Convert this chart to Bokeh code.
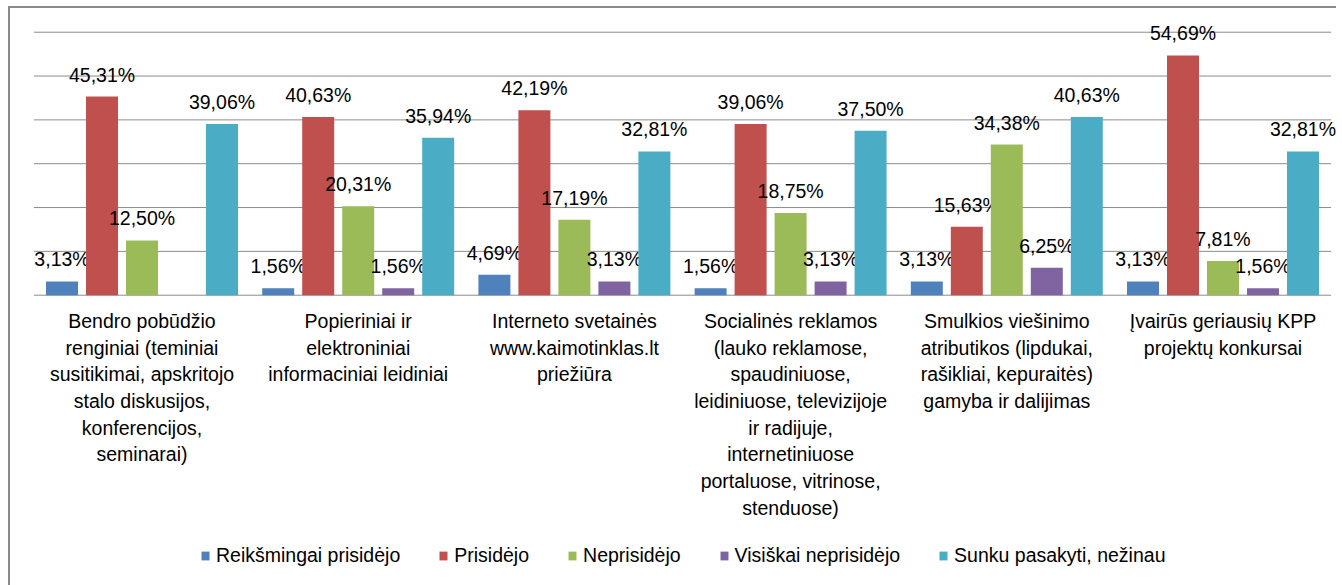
from bokeh.plotting import figure
from bokeh.models import (ColumnDataSource, FactorRange, Legend, LegendItem, Range1d)
from bokeh.transform import dodge
from bokeh.core.properties import value
from bokeh.embed import file_html
from bokeh.resources import INLINE

categories = [
    "Bendro pobūdžio\nrenginiai (teminiai\nsusitikimai, apskritojo\nstalo diskusijos,\nkonferencijos,\nseminarai)",
    "Popieriniai ir\nelektroniniai\ninformaciniai leidiniai",
    "Interneto svetainės\nwww.kaimotinklas.lt\npriežiūra",
    "Socialinės reklamos\n(lauko reklamose,\nspaudiniuose,\nleidiniuose, televizijoje\nir radijuje,\ninternetiniuose\nportaluose, vitrinose,\nstenduose)",
    "Smulkios viešinimo\natributikos (lipdukai,\nrašikliai, kepuraitės)\ngamyba ir dalijimas",
    "Įvairūs geriausių KPP\nprojektų konkursai",
]
series_names = ["Reikšmingai prisidėjo", "Prisidėjo", "Neprisidėjo",
                "Visiškai neprisidėjo", "Sunku pasakyti, nežinau"]
reiksmingai = [3.13, 1.56, 4.69, 1.56, 3.13, 3.13]
prisidejo = [45.31, 40.63, 42.19, 39.06, 15.63, 54.69]
neprisidejo = [12.50, 20.31, 17.19, 18.75, 34.38, 7.81]
visiskai = [0.0, 1.56, 3.13, 3.13, 6.25, 1.56]
sunku = [39.06, 35.94, 32.81, 37.50, 40.63, 32.81]
y_ticks = [0, 10, 20, 30, 40, 50, 60]

series_values = [reiksmingai, prisidejo, neprisidejo, visiskai, sunku]
colors = ["#4F81BD", "#C0504D", "#9BBB59", "#8064A2", "#4BACC6"]
offsets = [-0.37, -0.185, 0.0, 0.185, 0.37]
bar_w = 0.148
FONT = "Liberation Sans"

# frame covers the whole canvas; 0..60 occupies the chart area, the rest holds
# category labels and the legend
x_range = FactorRange(*categories, range_padding=0.025, range_padding_units="absolute")
p = figure(x_range=x_range, y_range=Range1d(-66.23, 65.41),
           frame_width=1308, frame_height=577,
           output_backend="svg", toolbar_location=None,
           min_border_left=18, min_border_right=0, min_border_top=0,
           min_border_bottom=0)
p.margin = (6, 0, 0, 8)
p.styles = {"border-left": "2px solid #8a8a8a", "border-top": "2px solid #8a8a8a"}
p.outline_line_color = None
p.background_fill_color = "white"
p.border_fill_color = "white"

# horizontal gridlines spanning exactly the category area
gsrc = ColumnDataSource(dict(x0=[categories[0]] * len(y_ticks),
                             x1=[categories[-1]] * len(y_ticks), y=y_ticks))
p.segment(x0=dodge("x0", -0.5, range=p.x_range), x1=dodge("x1", 0.5, range=p.x_range),
          y0="y", y1="y", source=gsrc, line_color="#8c8c8c", line_width=1)

items = []
for name, vals, col, off in zip(series_names, series_values, colors, offsets):
    src = ColumnDataSource(dict(cat=categories, v=vals))
    r = p.vbar(x=dodge("cat", off, range=p.x_range), top="v", width=bar_w,
               source=src, fill_color=col, line_color=None)
    items.append(LegendItem(label=name, renderers=[r]))
    lab_c = [c for c, v in zip(categories, vals) if v > 0]
    lab_v = [v for v in vals if v > 0]
    lab_t = [("%.2f" % v).replace(".", ",") + "%" for v in lab_v]
    lsrc = ColumnDataSource(dict(cat=lab_c, v=lab_v, t=lab_t))
    p.text(x=dodge("cat", off, range=p.x_range), y="v", text="t", source=lsrc,
           text_align="center", text_baseline="alphabetic", y_offset=-22,
           text_font=value(FONT), text_font_size="19.5px", text_color="#000000")

p.yaxis.visible = False
p.xaxis.visible = False
p.ygrid.visible = False
p.xgrid.visible = False

csrc = ColumnDataSource(dict(cat=categories, y=[0] * len(categories), t=categories))
p.text(x="cat", y="y", text="t", source=csrc, text_align="center",
       text_baseline="top", y_offset=15, text_font=value(FONT),
       text_font_size="19.5px", text_line_height=1.21, text_color="#000000")

legend = Legend(items=items, orientation="horizontal", location=(172, 18),
                glyph_width=10, glyph_height=11, label_standoff=6, spacing=38,
                label_text_font=FONT, label_text_font_size="19.5px",
                label_text_color="#000000", border_line_color=None,
                background_fill_alpha=0, padding=0, margin=0, label_height=20)
p.add_layout(legend, "center")

open("out.html", "w").write(file_html(p, INLINE))
